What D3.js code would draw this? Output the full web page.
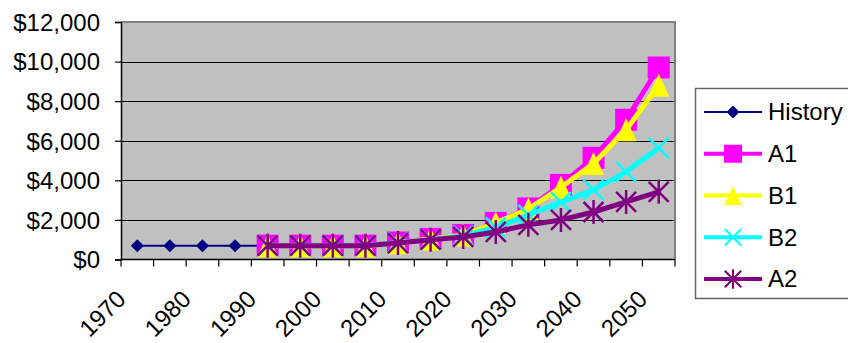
<!DOCTYPE html>
<html>
<head>
<meta charset="utf-8">
<script src="https://cdn.jsdelivr.net/npm/d3@7"></script>
<style>
  html, body { margin: 0; padding: 0; background: #fff; }
  svg { display: block; font-family: "Liberation Sans", Arial, sans-serif; }
</style>
</head>
<body>
<svg id="chart" width="848" height="343"></svg>
<script>
// ---- Data ----
const categories = ["1970","1975","1980","1985","1990","1995","2000","2005","2010","2015","2020","2025","2030","2035","2040","2045","2050"];
const xTickLabels = ["1970","1980","1990","2000","2010","2020","2030","2040","2050"];
const yTicks = [0, 2000, 4000, 6000, 8000, 10000, 12000];

const historyYears = ["1970","1975","1980","1985","1990"];
const historyValues = [700, 700, 700, 700, 700];

const scenarioYears = ["1990","1995","2000","2005","2010","2015","2020","2025","2030","2035","2040","2045","2050"];
const a1Values = [700, 700, 700, 700, 860, 1040, 1240, 1850, 2580, 3770, 5140, 7060, 9700];
const b1Values = [700, 700, 700, 700, 850, 1040, 1240, 1850, 2550, 3650, 4850, 6560, 8800];
const b2Values = [700, 700, 700, 700, 850, 1000, 1200, 1620, 2250, 2900, 3520, 4430, 5640];
const a2Values = [700, 700, 700, 700, 830, 1000, 1140, 1390, 1750, 2000, 2400, 2910, 3420];

const seriesNames = ["History", "A1", "B1", "B2", "A2"];
const seriesColors = ["#000080", "#FF00FF", "#FFFF00", "#00FFFF", "#800080"];

// ---- Layout ----
const svg = d3.select("#chart");
const plot = { left: 121, right: 675, top: 22, bottom: 259.5 };

const x = d3.scaleBand().domain(categories).range([plot.left, plot.right]);
const y = d3.scaleLinear().domain([0, 12000]).range([plot.bottom, plot.top]);
const cx = d => x(d) + x.bandwidth() / 2;

// plot background
svg.append("rect")
  .attr("x", plot.left).attr("y", plot.top)
  .attr("width", plot.right - plot.left).attr("height", plot.bottom - plot.top)
  .attr("fill", "#C0C0C0");

// gridlines
svg.append("g").selectAll("line")
  .data(yTicks.filter(v => v > 0 && v < 12000))
  .join("line")
  .attr("x1", plot.left).attr("x2", plot.right)
  .attr("y1", d => Math.round(y(d)) + 0.5).attr("y2", d => Math.round(y(d)) + 0.5)
  .attr("stroke", "#000").attr("stroke-width", 1);

// top & right border
svg.append("path")
  .attr("d", `M${plot.left},${plot.top} H${plot.right} V${plot.bottom}`)
  .attr("fill", "none").attr("stroke", "#808080").attr("stroke-width", 2);

// y axis
const yAxis = d3.axisLeft(y).tickValues(yTicks).tickSize(6).tickPadding(15)
  .tickFormat(v => "$" + d3.format(",")(v));
const gy = svg.append("g").attr("transform", `translate(${plot.left},0)`).call(yAxis);
gy.select(".domain").attr("stroke", "#000").attr("stroke-width", 1.5);
gy.selectAll(".tick line").attr("stroke", "#000").attr("stroke-width", 1.2);
gy.selectAll(".tick text").attr("font-size", 24).attr("fill", "#000")
  .attr("font-family", "'Liberation Sans', Arial, sans-serif").attr("dy", "0.35em");

// x axis (ticks at category boundaries)
const boundaries = categories.map(c => x(c)).concat([plot.right]);
svg.append("g").selectAll("line").data(boundaries).join("line")
  .attr("x1", d => d).attr("x2", d => d)
  .attr("y1", plot.bottom).attr("y2", plot.bottom + 7)
  .attr("stroke", "#000").attr("stroke-width", 1.2);
svg.append("line")
  .attr("x1", plot.left).attr("x2", plot.right)
  .attr("y1", plot.bottom).attr("y2", plot.bottom)
  .attr("stroke", "#000").attr("stroke-width", 1.5);

svg.append("g").selectAll("text").data(xTickLabels).join("text")
  .attr("transform", d => `translate(${cx(d) - 10},${plot.bottom + 41}) rotate(-45)`)
  .attr("text-anchor", "end")
  .attr("font-size", 24).attr("fill", "#000")
  .text(d => d);

// ---- Markers ----
const markerPaths = {
  diamond: "M0,-6.5L6.5,0L0,6.5L-6.5,0Z",
  square: "M-11,-11H11V11H-11Z",
  triangle: "M0,-11.5L10.5,11.5L-10.5,11.5Z",
  x: "M-10,-10L10,10M-10,10L10,-10",
  star: "M-10,-10L10,10M-10,10L10,-10M0,-12V12"
};
function drawMarker(g, type, color, scale) {
  const p = g.append("path").attr("d", markerPaths[type]);
  if (scale) p.attr("transform", `scale(${scale})`);
  if (type === "x" || type === "star") {
    p.attr("fill", "none").attr("stroke", color).attr("stroke-width", 2.5);
  } else {
    p.attr("fill", color).attr("stroke", "none");
  }
}

const series = [
  { name: "History", years: historyYears, values: historyValues, color: seriesColors[0], marker: "diamond", width: 2, markerYears: ["1970","1975","1980","1985"] },
  { name: "A1", years: scenarioYears, values: a1Values, color: seriesColors[1], marker: "square", width: 5 },
  { name: "B1", years: scenarioYears, values: b1Values, color: seriesColors[2], marker: "triangle", width: 5 },
  { name: "B2", years: scenarioYears, values: b2Values, color: seriesColors[3], marker: "x", width: 5 },
  { name: "A2", years: scenarioYears, values: a2Values, color: seriesColors[4], marker: "star", width: 5 }
];

const line = d3.line().x(d => cx(d.year)).y(d => y(d.value));

series.forEach(s => {
  const pts = s.years.map((yr, i) => ({ year: yr, value: s.values[i] }));
  svg.append("path").datum(pts)
    .attr("d", line).attr("fill", "none")
    .attr("stroke", s.color).attr("stroke-width", s.width)
    .attr("stroke-linejoin", "round");
  const mpts = s.markerYears ? pts.filter(p => s.markerYears.includes(p.year)) : pts;
  mpts.forEach(p => {
    const g = svg.append("g").attr("transform", `translate(${cx(p.year)},${y(p.value)})`);
    drawMarker(g, s.marker, s.color);
  });
});

// ---- Legend ----
const legend = svg.append("g");
legend.append("rect")
  .attr("x", 695.5).attr("y", 88.5).attr("width", 200).attr("height", 210)
  .attr("fill", "#fff").attr("stroke", "#666").attr("stroke-width", 1.5);
const legendY = d3.scalePoint().domain(seriesNames).range([112, 279]);
series.forEach(s => {
  const ly = legendY(s.name);
  legend.append("line")
    .attr("x1", 704).attr("x2", 762).attr("y1", ly).attr("y2", ly)
    .attr("stroke", s.color).attr("stroke-width", s.name === "History" ? 2 : 4);
  const g = legend.append("g").attr("transform", `translate(733,${ly})`);
  drawMarker(g, s.marker, s.color, s.name === "History" ? 1 : 0.82);
  legend.append("text")
    .attr("x", 768).attr("y", ly).attr("dy", "0.35em")
    .attr("font-size", 24).attr("fill", "#000")
    .text(s.name);
});
</script>
</body>
</html>
